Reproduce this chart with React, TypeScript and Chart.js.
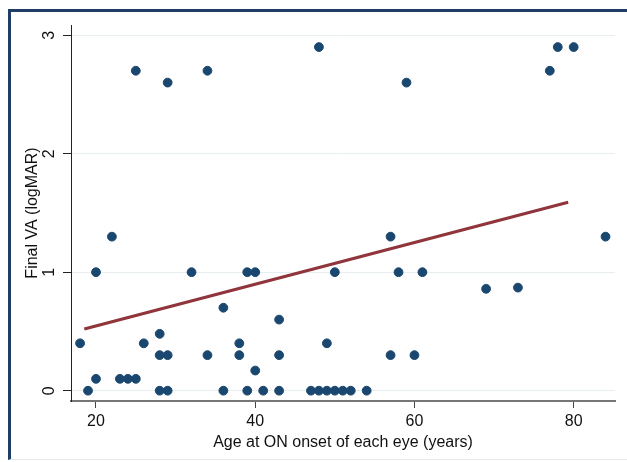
import React, { useEffect, useRef } from 'react';
import { Chart, registerables } from 'chart.js';

Chart.register(...registerables);

// Age at optic neuritis onset (years) and final visual acuity (logMAR)
const ageYears = [
  18, 19, 20, 20, 22, 23, 24, 25, 25, 26,
  28, 28, 28, 29, 29, 29, 32, 34, 34, 36,
  36, 38, 38, 39, 39, 40, 40, 41, 43, 43,
  43, 47, 48, 48, 49, 49, 50, 50, 51, 52,
  54, 57, 57, 58, 59, 60, 61, 69, 73, 77,
  78, 80, 84,
];
const finalVA = [
  0.4, 0, 0.1, 1.0, 1.3, 0.1, 0.1, 0.1, 2.7, 0.4,
  0.48, 0.3, 0, 0.3, 0, 2.6, 1.0, 0.3, 2.7, 0.7,
  0, 0.4, 0.3, 1.0, 0, 1.0, 0.17, 0, 0.6, 0.3,
  0, 0, 2.9, 0, 0, 0.4, 0, 1.0, 0, 0,
  0, 1.3, 0.3, 1.0, 2.6, 0.3, 1.0, 0.86, 0.87, 2.7,
  2.9, 2.9, 1.3,
];

// Linear fit line end points
const fitAge = [18.53, 79.31];
const fitVA = [0.521, 1.59];

const xTicks = [20, 40, 60, 80];
const yTicks = [0, 1, 2, 3];
const xTitle = 'Age at ON onset of each eye (years)';
const yTitle = 'Final VA (logMAR)';

const FONT = '"Liberation Sans", Arial, sans-serif';

const rotatedYLabels = {
  id: 'rotatedYLabels',
  afterDraw(chart: any) {
    const s = chart.scales.y;
    const ctx = chart.ctx;
    ctx.save();
    ctx.font = `16px ${FONT}`;
    ctx.fillStyle = '#111';
    ctx.textAlign = 'center';
    ctx.textBaseline = 'middle';
    yTicks.forEach((v) => {
      const py = s.getPixelForValue(v);
      ctx.save();
      ctx.translate(50, py);
      ctx.rotate(-Math.PI / 2);
      ctx.fillText(String(v), 0, 0);
      ctx.restore();
    });
    ctx.restore();
  },
};

export default function App() {
  const ref = useRef<HTMLCanvasElement | null>(null);

  useEffect(() => {
    if (!ref.current) return;
    const chart = new Chart(ref.current, {
      type: 'scatter',
      data: {
        datasets: [
          {
            type: 'line',
            data: fitAge.map((x, i) => ({ x, y: fitVA[i] })),
            borderColor: '#90353b',
            borderWidth: 3.2,
            pointRadius: 0,
            fill: false,
            order: 0,
          } as any,
          {
            type: 'scatter',
            data: ageYears.map((x, i) => ({ x, y: finalVA[i] })),
            backgroundColor: '#1a476f',
            borderColor: '#1a476f',
            borderWidth: 1,
            pointRadius: 4.4,
            order: 1,
          },
        ],
      },
      plugins: [rotatedYLabels],
      options: {
        responsive: false,
        animation: false,
        devicePixelRatio: 1,
        layout: { padding: { top: 25, right: 12, left: 0, bottom: 0 } },
        plugins: {
          legend: { display: false },
          tooltip: { enabled: false },
        },
        scales: {
          x: {
            type: 'linear',
            min: 16.86,
            max: 85.19,
            afterBuildTicks: (s: any) => {
              s.ticks = xTicks.map((v) => ({ value: v }));
            },
            afterFit: (s: any) => {
              s.height = 61;
            },
            ticks: {
              font: { family: FONT, size: 16 },
              color: '#111',
              padding: 4,
              maxRotation: 0,
              autoSkip: false,
            },
            grid: {
              drawOnChartArea: false,
              drawTicks: true,
              tickLength: 7,
              tickColor: '#444',
            },
            border: { display: true, color: '#777', width: 2 },
            title: {
              display: true,
              text: xTitle,
              font: { family: FONT, size: 16 },
              color: '#111',
              padding: { top: 0, bottom: 9.4 },
            },
          },
          y: {
            type: 'linear',
            min: -0.087,
            max: 3.086,
            afterBuildTicks: (s: any) => {
              s.ticks = yTicks.map((v) => ({ value: v }));
            },
            afterFit: (s: any) => {
              s.width = 71;
            },
            ticks: { display: false },
            grid: {
              color: '#e6eef0',
              lineWidth: 1,
              drawTicks: true,
              tickLength: 8,
              tickColor: '#222',
            },
            border: { display: true, color: '#222', width: 1 },
            title: {
              display: true,
              text: yTitle,
              font: { family: FONT, size: 16 },
              color: '#111',
              padding: { top: 23.4, bottom: 0 },
            },
          },
        },
      } as any,
    });
    return () => chart.destroy();
  }, []);

  return (
    <div style={{ position: 'absolute', left: 0, top: 0, width: 627, height: 462, background: '#fff' }}>
      <canvas ref={ref} width={627} height={462} style={{ display: 'block', width: 627, height: 462 }} />
      <div
        style={{
          position: 'absolute',
          left: 8,
          top: 9,
          width: 627 - 8,
          height: 460 - 9,
          borderLeft: '3px solid #1f3e66',
          borderTop: '3px solid #1f3e66',
          borderBottom: '1.5px solid #e4e9ed',
          boxSizing: 'border-box',
          pointerEvents: 'none',
        }}
      />
    </div>
  );
}
